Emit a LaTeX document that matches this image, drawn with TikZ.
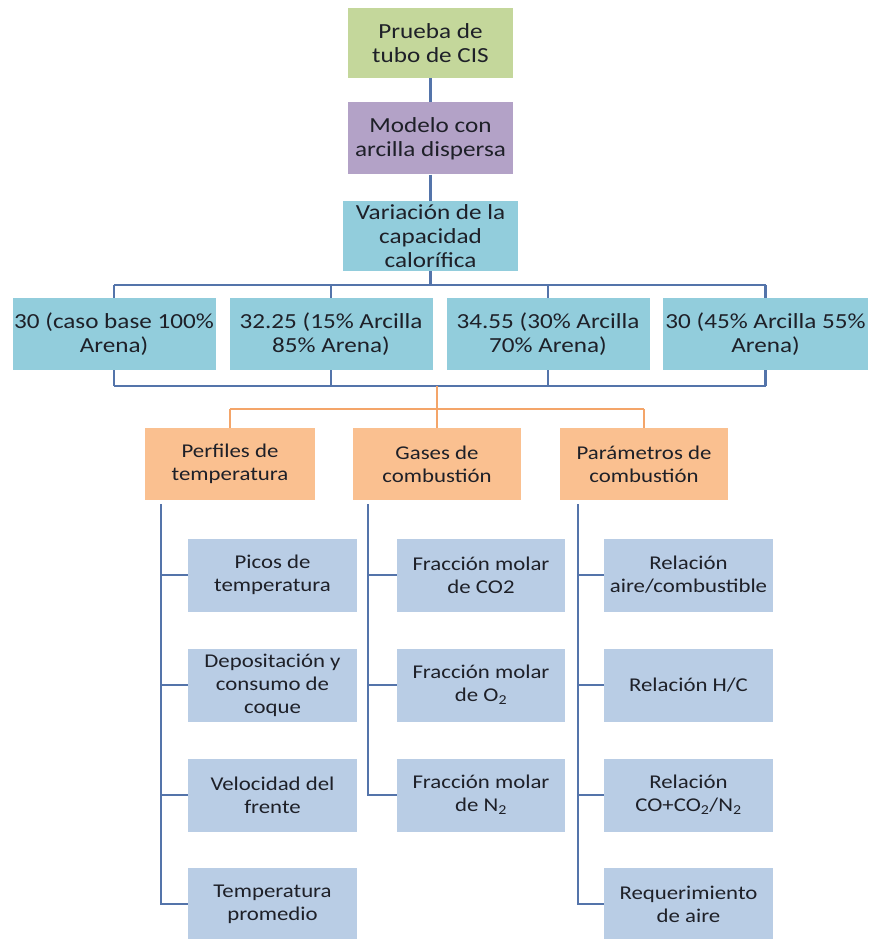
\documentclass[tikz,border=0pt]{standalone}
\usepackage{fontspec}
\setmainfont{Carlito}[FakeStretch=1.17]
\usetikzlibrary{positioning}
\definecolor{olivebox}{RGB}{196,215,155}
\definecolor{lilacbox}{RGB}{179,162,199}
\definecolor{aquabox}{RGB}{146,205,220}
\definecolor{peachbox}{RGB}{250,192,144}
\definecolor{steelbox}{RGB}{185,205,229}
\definecolor{linkblue}{RGB}{84,116,170}
\definecolor{linkorange}{RGB}{244,165,105}
\definecolor{ink}{RGB}{30,32,40}

\begin{document}
\begin{tikzpicture}[x=1pt, y=1pt,
  box/.style={fill=#1, inner sep=0pt, align=center, text=ink,
    minimum height=72pt, font=\fontsize{21.5}{24}\selectfont},
  leaf/.style={box=steelbox, minimum width=169pt, minimum height=73pt,
    font=\fontsize{19.5}{23}\selectfont},
  link/.style={draw=linkblue, line width=2.2pt},
  olink/.style={draw=linkorange, line width=2pt}]
  \useasboundingbox (0,0) rectangle (869,-939);

  \node[box=olivebox, minimum width=165pt, minimum height=70pt] (test) at (430.5,-43)
    {Prueba de\\tubo de CIS};
  \node[box=lilacbox, minimum width=165pt, below=24pt of test] (model)
    {Modelo con\\arcilla dispersa};
  \node[box=aquabox, minimum width=175pt, minimum height=70pt, below=26pt of model] (heat)
    {Variación de la\\capacidad\\calorífica};

  \node[box=aquabox, minimum width=203pt] (r1) at (114,-334) {30 (caso base 100\%\\Arena)};
  \node[box=aquabox, minimum width=203pt] (r2) at (331,-334) {32.25 (15\% Arcilla\\85\% Arena)};
  \node[box=aquabox, minimum width=203pt] (r3) at (548,-334) {34.55 (30\% Arcilla\\70\% Arena)};
  \node[box=aquabox, minimum width=205pt] (r4) at (765.5,-334) {30 (45\% Arcilla 55\%\\Arena)};

  \node[box=peachbox, minimum width=170pt, font=\fontsize{19.5}{23}\selectfont] (temp) at (230,-464)
    {Perfiles de\\temperatura};
  \node[box=peachbox, minimum width=168pt, font=\fontsize{19.5}{23}\selectfont] (gas) at (437,-464)
    {Gases de\\combustión};
  \node[box=peachbox, minimum width=168pt, font=\fontsize{19.5}{23}\selectfont] (par) at (644,-464)
    {Parámetros de\\combustión};

  \node[leaf] (t1) at (272.5,-575) {Picos de\\temperatura};
  \node[leaf] (t2) at (272.5,-685) {Depositación y\\consumo de\\coque};
  \node[leaf] (t3) at (272.5,-795) {Velocidad del\\frente};
  \node[leaf] (t4) at (272.5,-904) {Temperatura\\promedio};

  \node[leaf, minimum width=168pt] (g1) at (481,-575) {Fracción molar\\de CO2};
  \node[leaf, minimum width=168pt] (g2) at (481,-685) {Fracción molar\\de O\textsubscript{2}};
  \node[leaf, minimum width=168pt] (g3) at (481,-795) {Fracción molar\\de N\textsubscript{2}};

  \node[leaf] (p1) at (688.5,-575) {Relación\\aire/combustible};
  \node[leaf] (p2) at (688.5,-685) {Relación H/C};
  \node[leaf] (p3) at (688.5,-795) {Relación\\CO+CO\textsubscript{2}/N\textsubscript{2}};
  \node[leaf] (p4) at (688.5,-904) {Requerimiento\\de aire};

  \coordinate (bustop) at (430.5,-285);
  \coordinate (busbot) at (437,-386);
  \coordinate (fork) at (437,-409);
  \coordinate (tt) at (160.5,-504);
  \coordinate (gt) at (368,-504);
  \coordinate (pt) at (578,-504);

  \draw[link] (test) -- (model);
  \draw[link] (model) -- (heat);
  \draw[link] (heat) -- (bustop);
  \draw[link] (r1.north |- bustop) -- (r4.north |- bustop);
  \draw[link] (r1.south |- busbot) -- (r4.south |- busbot);
  \foreach \r in {r1,r2,r3,r4} {
    \draw[link] (\r.north) -- (\r.north |- bustop);
    \draw[link] (\r.south) -- (\r.south |- busbot);
  }

  \draw[olink] (busbot) -- (fork);
  \draw[olink] (temp.north |- fork) -- (par.north |- fork);
  \foreach \o in {temp,gas,par}
    \draw[olink] (\o.north |- fork) -- (\o.north);

  \foreach \c in {t1,t2,t3,t4}
    \draw[link, line width=2pt] (tt) |- (\c.west);
  \foreach \c in {g1,g2,g3}
    \draw[link, line width=2pt] (gt) |- (\c.west);
  \foreach \c in {p1,p2,p3,p4}
    \draw[link, line width=2pt] (pt) |- (\c.west);
\end{tikzpicture}
\end{document}
